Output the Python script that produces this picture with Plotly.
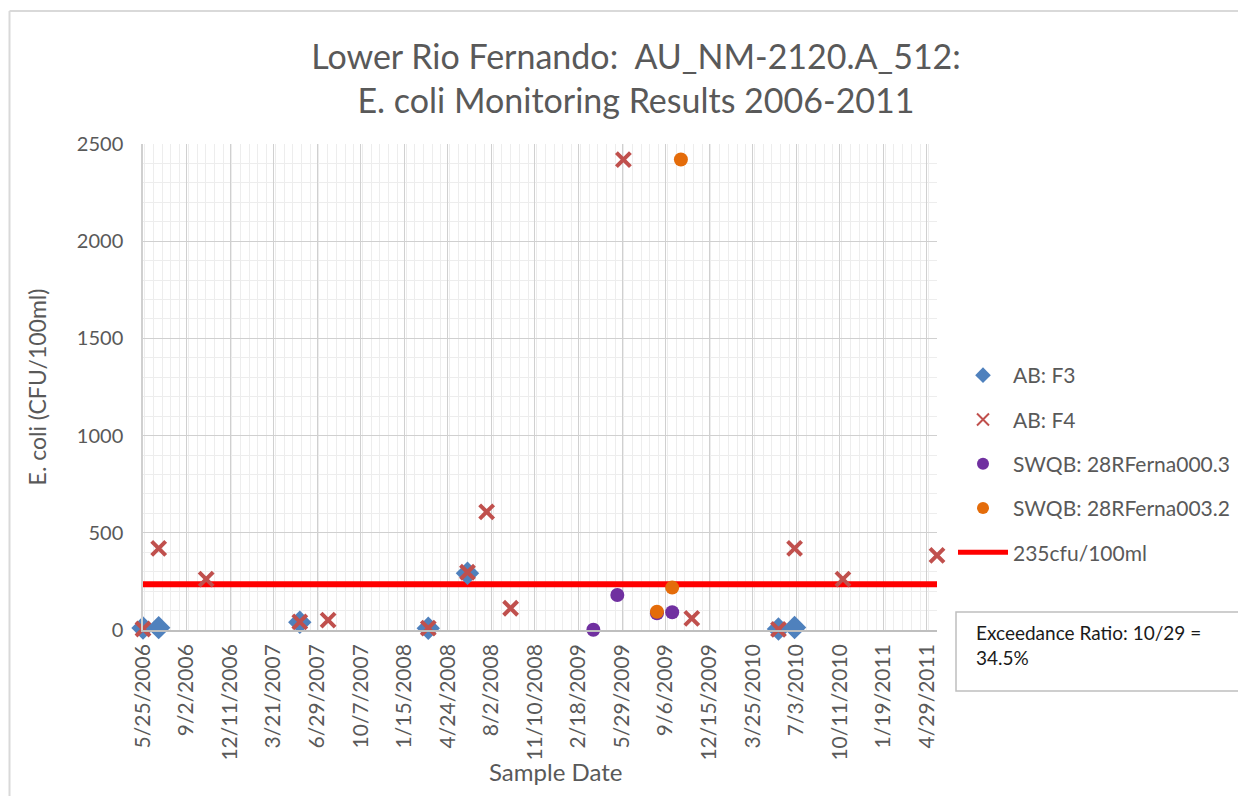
import plotly.graph_objects as go

# ---------------- data ----------------
f3_dates = ["2006-05-25", "2006-06-30", "2007-05-20", "2008-03-10", "2008-06-08", "2010-05-23", "2010-06-29"]
f3_values = [10, 12, 40, 9, 292, 5, 13]

f4_dates = ["2006-05-25", "2006-06-30", "2006-10-17", "2007-05-20", "2007-07-24", "2008-03-10",
            "2008-06-08", "2008-07-22", "2008-09-15", "2009-06-01", "2009-11-05", "2010-05-23",
            "2010-06-29", "2010-10-18", "2011-05-22"]
f4_values = [5, 420, 262, 42, 51, 10, 297, 608, 112, 2420, 60, 3, 420, 262, 384]

swqb000_dates = ["2009-03-24", "2009-05-18", "2009-08-17", "2009-09-21"]
swqb000_values = [1, 180, 86, 91]

swqb003_dates = ["2009-08-17", "2009-09-21", "2009-10-11"]
swqb003_values = [94, 218, 2420]

threshold_value = 235
x_range = ["2006-05-25", "2011-05-22"]
y_range = [0, 2500]

DAY_MS = 86400000
MAJOR_DAYS = 100

FONT = "Lato"
GREY = "#595959"

fig = go.Figure()

# threshold line (drawn first so markers sit on top)
fig.add_trace(go.Scatter(
    x=x_range, y=[threshold_value, threshold_value], mode="lines",
    name="235cfu/100ml", line=dict(color="#FF0000", width=6),
    legendrank=5, legendgroup="g5", cliponaxis=False))

fig.add_trace(go.Scatter(
    x=f3_dates, y=f3_values, mode="markers", name="AB: F3",
    marker=dict(symbol="diamond", size=18, color="#4F81BD"),
    legendrank=1, legendgroup="g1", cliponaxis=False))

fig.add_trace(go.Scatter(
    x=f4_dates, y=f4_values, mode="markers", name="AB: F4",
    marker=dict(symbol="x-thin", size=14, color="#C0504D",
                line=dict(color="#C0504D", width=4)),
    legendrank=2, legendgroup="g2", cliponaxis=False))

fig.add_trace(go.Scatter(
    x=swqb000_dates, y=swqb000_values, mode="markers", name="SWQB: 28RFerna000.3",
    marker=dict(symbol="circle", size=14, color="#7030A0"),
    legendrank=3, legendgroup="g3", cliponaxis=False))

fig.add_trace(go.Scatter(
    x=swqb003_dates, y=swqb003_values, mode="markers", name="SWQB: 28RFerna003.2",
    marker=dict(symbol="circle", size=14, color="#E46C0A"),
    legendrank=4, legendgroup="g4", cliponaxis=False))

# page body margin offset (8px) is compensated here; page coords are used below
OFF = 8
W, H = 1246, 796
L, T = 143 - OFF, 144 - OFF
R = W - (937 - OFF)
B = H - (630 - OFF)
PW, PH = W - L - R, H - T - B


def px(page_x):
    return (page_x - OFF - L) / PW


def py(page_y):
    return (H - B - (page_y - OFF)) / PH


fig.update_layout(
    width=W, height=H,
    margin=dict(l=L, r=R, t=T, b=B),
    paper_bgcolor="white", plot_bgcolor="white",
    font=dict(family=FONT, color=GREY, size=20),
    title=dict(
        text="Lower Rio Fernando:  AU_NM-2120.A_512:<br>E. coli Monitoring Results 2006-2011",
        x=px(636), xref="paper", xanchor="center",
        y=1 - (69 - OFF) / H, yanchor="top",
        font=dict(family=FONT, size=34, color=GREY)),
    showlegend=True,
    legend=dict(
        x=px(953), xanchor="left", y=py(355), yanchor="top",
        traceorder="grouped", tracegroupgap=14, itemsizing="constant",
        font=dict(family=FONT, size=21, color=GREY),
        bgcolor="rgba(0,0,0,0)", itemwidth=50),
    xaxis=dict(
        type="date", range=x_range,
        tick0=x_range[0], dtick=MAJOR_DAYS * DAY_MS,
        tickformat="%-m/%-d/%Y", tickangle=-90,
        tickfont=dict(family=FONT, size=21, color=GREY),
        showgrid=True, gridcolor="#D0D0D0", gridwidth=1,
        minor=dict(dtick=MAJOR_DAYS * DAY_MS / 5, showgrid=True, gridcolor="#EDEDED", gridwidth=1),
        showline=True, linecolor="#BFBFBF", linewidth=1.5,
        ticks="", zeroline=False, ticklabelstandoff=4,
        automargin=False),
    yaxis=dict(
        range=y_range, dtick=500, tick0=0,
        tickfont=dict(family=FONT, size=20, color=GREY),
        showgrid=True, gridcolor="#D0D0D0", gridwidth=1,
        minor=dict(dtick=100, showgrid=True, gridcolor="#EDEDED", gridwidth=1),
        showline=True, linecolor="#D0D0D0", linewidth=1.5,
        ticks="", zeroline=False, ticklabelstandoff=14,
        title=dict(text="E. coli (CFU/100ml)", font=dict(family=FONT, size=23, color=GREY), standoff=24),
        automargin=False),
)

# x-axis title (placed as in the reference, slightly right of the plot centre)
fig.add_annotation(
    text="Sample Date", xref="paper", yref="paper",
    x=px(555), y=py(771), xanchor="center", yanchor="middle", showarrow=False,
    font=dict(family=FONT, size=24, color=GREY))

# outer chart frame: left and top edges (right/bottom fall outside the picture)
fig.add_shape(type="line", xref="paper", yref="paper",
              x0=px(9.5), x1=px(9.5), y0=py(OFF + H), y1=py(11),
              line=dict(color="#D9D9D9", width=2), layer="below")
fig.add_shape(type="line", xref="paper", yref="paper",
              x0=px(9.5), x1=px(OFF + W), y0=py(11), y1=py(11),
              line=dict(color="#D9D9D9", width=2), layer="below")

# exceedance ratio box
fig.add_shape(type="rect", xref="paper", yref="paper",
              x0=px(956), x1=px(1243), y0=py(691), y1=py(612),
              line=dict(color="#BFBFBF", width=1.5), fillcolor="white")
fig.add_annotation(
    text="Exceedance Ratio: 10/29 =<br>34.5%", xref="paper", yref="paper",
    x=px(974), y=py(619), xanchor="left", yanchor="top", align="left", showarrow=False,
    font=dict(family=FONT, size=19, color="#1A1A1A"))

fig.write_html("out.html")
